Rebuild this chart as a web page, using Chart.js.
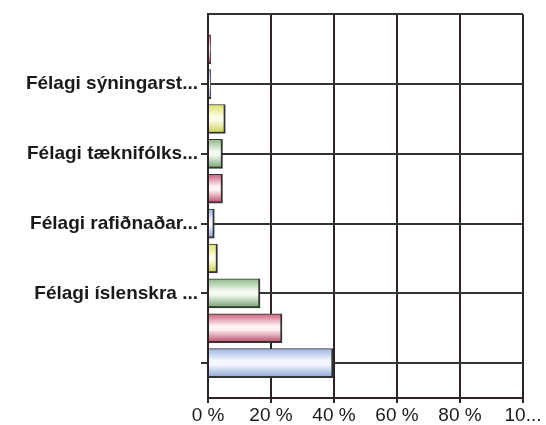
<!DOCTYPE html>
<html>
<head>
<meta charset="utf-8">
<script src="https://cdn.jsdelivr.net/npm/chart.js@4/dist/chart.umd.min.js"></script>
<style>
  html, body { margin: 0; padding: 0; background: #fff; }
  #wrap { width: 546px; height: 425px; }
</style>
</head>
<body>
<div id="wrap"><canvas id="bars-chart"></canvas></div>
<script>
// categories from top to bottom, only every other one carries a label
const categories = ['', '', 'Félagi sýningarst...', '', 'Félagi tæknifólks...', '', 'Félagi rafiðnaðar...', '', 'Félagi íslenskra ...', '', '', ''];
const values = [null, 0.9, 0.9, 5.5, 4.6, 4.6, 2.0, 3.0, 16.5, 23.5, 39.7, null];
const barKinds = ['green', 'pink', 'blue', 'yellow', 'green', 'pink', 'blue', 'yellow', 'green', 'pink', 'blue', 'yellow'];
const xTicks = [0, 20, 40, 60, 80, 100];
const xTickLabels = ['0 %', '20 %', '40 %', '60 %', '80 %', '10...'];

const palette = {
  blue:   { edge: '#9db4e2', mid: '#f5f8ff', low: '#8aa4d8' },
  pink:   { edge: '#c9607c', mid: '#fff2f5', low: '#b84464' },
  green:  { edge: '#8db887', mid: '#f4faf2', low: '#739f6e' },
  yellow: { edge: '#dfe26a', mid: '#fcfde6', low: '#c8cc4a' }
};

function barFill(context) {
  const chart = context.chart;
  const kind = palette[barKinds[context.dataIndex]];
  const yScale = chart.scales.y;
  if (!chart.chartArea || !yScale) return kind.edge;
  const yc = yScale.getPixelForValue(context.dataIndex);
  const h = 29;
  const g = chart.ctx.createLinearGradient(0, yc - h / 2, 0, yc + h / 2);
  g.addColorStop(0, kind.edge);
  g.addColorStop(0.42, kind.mid);
  g.addColorStop(0.55, kind.mid);
  g.addColorStop(1, kind.low);
  return g;
}

new Chart(document.getElementById('bars-chart'), {
  type: 'bar',
  data: {
    labels: categories,
    datasets: [{
      data: values,
      backgroundColor: barFill,
      borderColor: '#333',
      borderWidth: { top: 1, bottom: 2, left: 0, right: 2 },
      borderSkipped: false,
      barThickness: 29
    }]
  },
  options: {
    indexAxis: 'y',
    responsive: true,
    maintainAspectRatio: false,
    animation: false,
    layout: { padding: { top: 13, right: 23, left: 0, bottom: 0 } },
    plugins: {
      legend: { display: false },
      tooltip: { enabled: false }
    },
    scales: {
      x: {
        min: 0,
        max: 100,
        afterBuildTicks: function (scale) {
          scale.ticks = xTicks.map(function (v) { return { value: v }; });
        },
        afterFit: function (scale) { scale.height = 27; },
        ticks: {
          autoSkip: false,
          maxRotation: 0,
          padding: 1,
          color: '#1a1a1a',
          font: { family: 'Liberation Sans', size: 19 },
          callback: function (v) { return xTickLabels[xTicks.indexOf(v)]; }
        },
        grid: {
          color: '#2e2427',
          lineWidth: 2,
          tickLength: 5
        },
        border: { color: '#2e2427', width: 2 }
      },
      y: {
        offset: false,
        afterFit: function (scale) { scale.width = 208; },
        ticks: {
          autoSkip: false,
          padding: 3,
          color: '#1a1a1a',
          font: { family: 'Liberation Sans', size: 19, weight: 'bold' }
        },
        grid: {
          offset: false,
          lineWidth: 2,
          tickLength: 7,
          color: function (ctx) {
            return ctx.index % 2 === 0 ? '#333' : 'rgba(0,0,0,0)';
          },
          tickColor: function (ctx) {
            return (ctx.index % 2 === 0 && ctx.index > 0) ? '#333' : 'rgba(0,0,0,0)';
          }
        },
        border: { color: '#2e2427', width: 2 }
      }
    }
  }
});
</script>
</body>
</html>
